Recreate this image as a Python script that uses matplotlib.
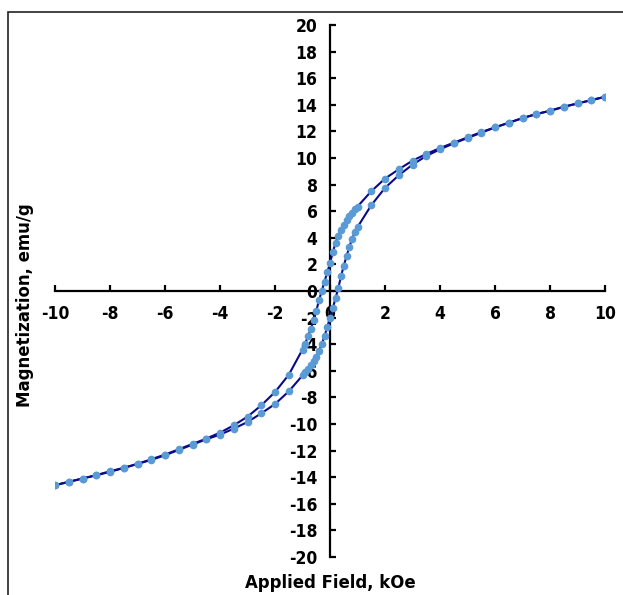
import numpy as np
import matplotlib
matplotlib.use("Agg")
import matplotlib.pyplot as plt
from matplotlib.patches import Rectangle
from matplotlib import font_manager

plt.rcParams["axes.unicode_minus"] = False

# descending branch (from +10 kOe down to -10 kOe)
field_down = [10, 9.5, 9, 8.5, 8, 7.5, 7, 6.5, 6, 5.5, 5, 4.5, 4, 3.5, 3, 2.5, 2, 1.5,
              1.0, 0.9, 0.8, 0.7, 0.6, 0.5, 0.4, 0.3, 0.2, 0.1, 0.0,
              -0.1, -0.2, -0.3, -0.4, -0.5, -0.6, -0.7, -0.8, -0.9, -1.0,
              -1.5, -2, -2.5, -3, -3.5, -4, -4.5, -5, -5.5, -6, -6.5, -7, -7.5,
              -8, -8.5, -9, -9.5, -10]
mag_down = [14.6, 14.35, 14.1, 13.85, 13.55, 13.3, 13.0, 12.65, 12.3, 11.95, 11.55, 11.15,
            10.75, 10.3, 9.8, 9.15, 8.45, 7.5,
            6.35, 6.15, 5.9, 5.65, 5.35, 5.0, 4.6, 4.15, 3.6, 2.9, 2.1,
            1.4, 0.7, 0.0, -0.7, -1.5, -2.2, -2.85, -3.4, -3.95, -4.4,
            -6.3, -7.6, -8.6, -9.45, -10.1, -10.65, -11.1, -11.5, -11.9, -12.3, -12.65,
            -13.0, -13.3, -13.55, -13.85, -14.1, -14.35, -14.6]

# ascending branch (from -10 kOe back up to +10 kOe)
field_up = [-10, -9.5, -9, -8.5, -8, -7.5, -7, -6.5, -6, -5.5, -5, -4.5, -4, -3.5, -3,
            -2.5, -2, -1.5, -1.0, -0.9, -0.8, -0.7, -0.6, -0.5, -0.4, -0.3, -0.2, -0.1,
            0.0, 0.1, 0.2, 0.3, 0.4, 0.5, 0.6, 0.7, 0.8, 0.9, 1.0,
            1.5, 2, 2.5, 3, 3.5, 4, 4.5, 5, 5.5, 6, 6.5, 7, 7.5, 8, 8.5, 9, 9.5, 10]
mag_up = [-14.6, -14.35, -14.1, -13.85, -13.6, -13.3, -13.0, -12.7, -12.35, -11.95, -11.55,
          -11.15, -10.8, -10.35, -9.85, -9.2, -8.5, -7.55, -6.35, -6.1, -5.85, -5.6, -5.3,
          -4.95, -4.5, -4.0, -3.4, -2.7,
          -2.0, -1.3, -0.55, 0.2, 1.1, 1.9, 2.6, 3.3, 3.9, 4.4, 4.8,
          6.45, 7.75, 8.7, 9.5, 10.15, 10.65, 11.1, 11.5, 11.9, 12.3, 12.65, 13.0, 13.3,
          13.55, 13.85, 14.1, 14.35, 14.6]

ticks_x = list(range(-10, 11, 2))
ticks_y = list(range(-20, 21, 2))

fp = font_manager.FontProperties(family="DejaVu Sans", stretch="condensed",
                                 weight="bold", size=12.5)
fp_lab = font_manager.FontProperties(family="DejaVu Sans", stretch="condensed",
                                     weight="bold", size=13.2)

W, H = 623, 595
fig = plt.figure(figsize=(W / 100, H / 100), dpi=100)
ax = fig.add_axes([55 / W, (H - 557) / H, 550 / W, 532 / H])

# chart border
fig.patches.append(Rectangle((8 / W, -0.05), 1.2, 1.05 - 12 / H, transform=fig.transFigure,
                             fill=False, edgecolor="#222222", linewidth=1.2))

line_c = "#0a0a8a"
mark_c = "#5b9bd5"
for hx, my in [(field_down, mag_down), (field_up, mag_up)]:
  ax.plot(hx, my, color=line_c, linewidth=1.5, zorder=2)
  ax.plot(hx, my, linestyle="none", marker="o", markersize=4.5,
          markerfacecolor=mark_c, markeredgecolor=mark_c, zorder=3)

ax.set_xlim(-10, 10)
ax.set_ylim(-20, 20)
ax.spines["left"].set_position(("data", 0))
ax.spines["bottom"].set_position(("data", 0))
ax.spines["top"].set_visible(False)
ax.spines["right"].set_visible(False)
for s in ["left", "bottom"]:
  ax.spines[s].set_linewidth(1.6)
  ax.spines[s].set_zorder(1)
ax.set_xticks(ticks_x)
ax.set_yticks(ticks_y)
ax.tick_params(direction="in", length=4, width=1.6)
ax.tick_params(axis="x", pad=10)
ax.tick_params(axis="y", pad=9)
for lab in ax.get_xticklabels() + ax.get_yticklabels():
  lab.set_fontproperties(fp)

fig.text(25 / W, 1 - 305 / H, "Magnetization, emu/g", rotation=90, ha="center", va="center",
         fontproperties=fp_lab)
fig.text(330 / W, 1 - 583 / H, "Applied Field, kOe", ha="center", va="center",
         fontproperties=fp_lab)

fig.savefig("out.png", dpi=100)
